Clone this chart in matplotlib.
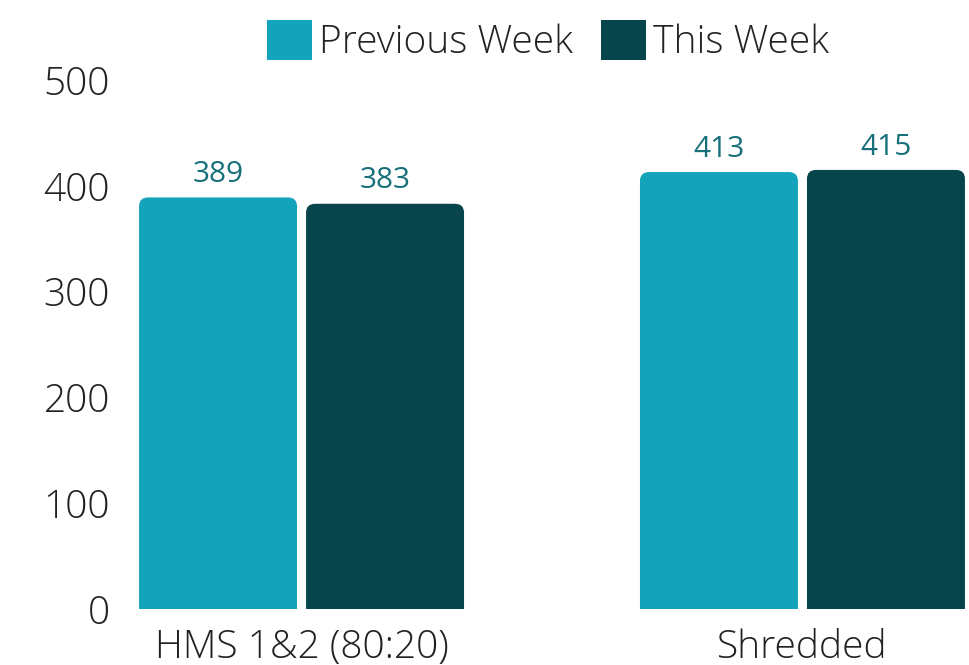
import matplotlib.pyplot as plt
from matplotlib.patches import FancyBboxPatch, Patch
import numpy as np

plt.rcParams['font.family'] = ['Open Sans', 'DejaVu Sans']

# data
categories = ["HMS 1&2 (80:20)", "Shredded"]
series_names = ["Previous Week", "This Week"]
previous_week = [389, 413]
this_week = [383, 415]
y_ticks = [0, 100, 200, 300, 400, 500]

colors = ["#13a3ba", "#07444b"]
label_color = "#17707a"

fig = plt.figure(figsize=(9.69, 6.65), dpi=100)
ax = fig.add_axes([139 / 969, 1 - 609 / 665, (965 - 139) / 969, (609 - 80) / 665])

x = np.arange(len(categories))
w = 0.3154
gap = 0.018
bars = []
for i, vals in enumerate([previous_week, this_week]):
    offs = (i - 0.5) * (w + gap)
    b = ax.bar(x + offs, vals, w, color=colors[i], label=series_names[i])
    bars.append(b)

ax.set_xlim(-0.3245, 1.3245)
ax.set_ylim(0, 500)

# swap plain rectangles for ones with rounded tops
px_x = 1 / 501.0
px_y = 1 / 1.058
aspect = px_y / px_x
for b in bars:
    for r in b.patches:
        r.set_visible(False)
        fb = FancyBboxPatch((r.get_x(), -30), r.get_width(), r.get_height() + 30,
                            boxstyle="round,pad=0,rounding_size=%f" % (9 * px_x),
                            mutation_aspect=aspect, facecolor=r.get_facecolor(),
                            edgecolor="none", clip_on=True)
        ax.add_patch(fb)
        ax.annotate(str(int(r.get_height())), (r.get_x() + r.get_width() / 2, r.get_height()),
                    xytext=(0, 6), textcoords="offset points", ha="center", va="bottom",
                    fontsize=21.5, color=label_color)

ax.set_xticks(x)
ax.set_xticklabels(categories)
ax.set_yticks(y_ticks)
for lab in ax.get_xticklabels() + ax.get_yticklabels():
    lab.set_fontweight("light")
    lab.set_fontsize(28)
    lab.set_color("#222222")
ax.tick_params(axis="both", length=0)
ax.tick_params(axis="y", pad=21)
ax.tick_params(axis="x", pad=14)
for s in ax.spines.values():
    s.set_visible(False)

handles = [Patch(facecolor=c, edgecolor="none") for c in colors]
leg = fig.legend(handles=handles, labels=series_names, loc="center",
                 bbox_to_anchor=(548 / 969, 1 - 41 / 665), ncol=2, frameon=False,
                 prop={"size": 28, "weight": "light"}, handlelength=1.17, handleheight=1.2,
                 handletextpad=0.18, columnspacing=0.7)
for t in leg.get_texts():
    t.set_color("#222222")

fig.savefig("out.png", dpi=100)
